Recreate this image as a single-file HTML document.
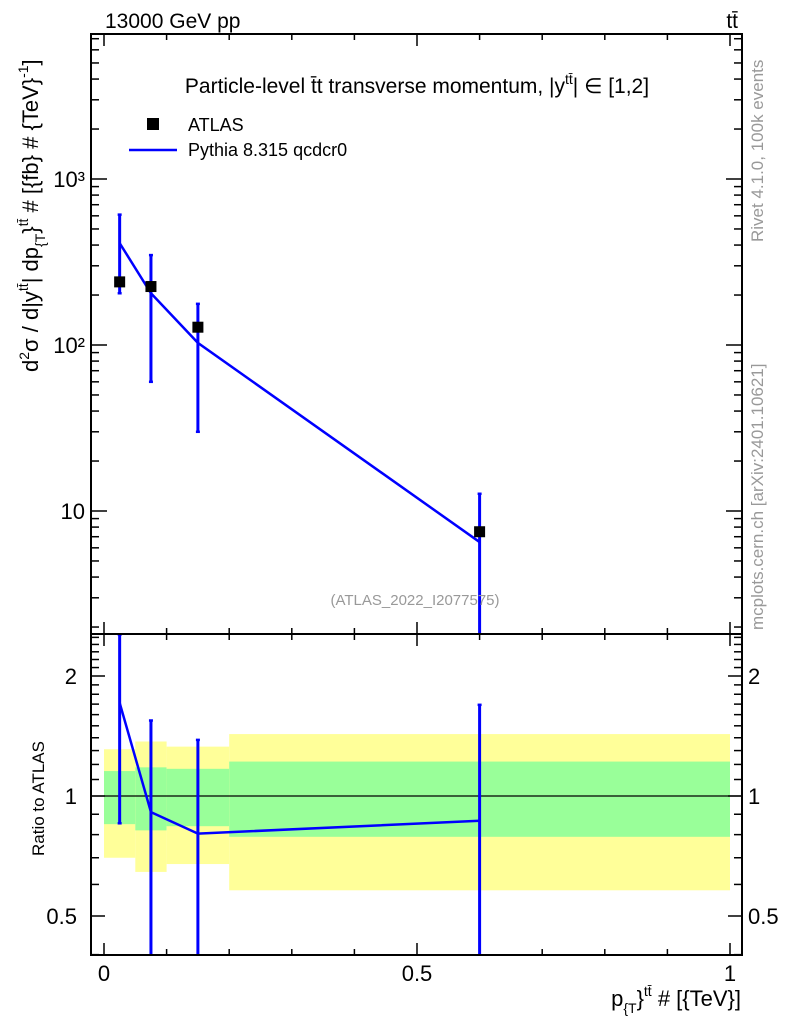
<!DOCTYPE html>
<html><head><meta charset="utf-8"><style>
html,body{margin:0;padding:0;background:#fff;}
svg{display:block;font-family:"Liberation Sans",sans-serif;}
</style></head><body>
<svg id="c" width="786" height="1024" viewBox="0 0 786 1024" xmlns="http://www.w3.org/2000/svg">
<rect x="0" y="0" width="786" height="1024" fill="#fff"/>
<g id="bands"></g><g id="grid"></g><g id="marks"></g>
<rect x="91" y="34" width="651" height="600" fill="none" stroke="#000" stroke-width="2"/>
<rect x="91" y="634" width="651" height="321" fill="none" stroke="#000" stroke-width="2"/>
<text x="105" y="28" font-size="21">13000 GeV pp</text>
<text x="738" y="28" font-size="21" text-anchor="end">tt̄</text>
<text x="417" y="93" font-size="21" text-anchor="middle">Particle-level t̄t transverse momentum, |y<tspan font-size="14" dy="-9">tt̄</tspan><tspan dy="9">| ∈ [1,2]</tspan></text>
<rect x="147" y="118" width="12" height="12" fill="#000"/>
<text x="188" y="131" font-size="18">ATLAS</text>
<line x1="129" y1="150" x2="177" y2="150" stroke="#00f" stroke-width="2.5"/>
<text x="188" y="156" font-size="18">Pythia 8.315 qcdcr0</text>
<text x="415" y="605" font-size="15" fill="#999" text-anchor="middle">(ATLAS_2022_I2077575)</text>
<text transform="translate(763,242) rotate(-90)" font-size="17" fill="#999">Rivet 4.1.0,  100k events</text>
<text transform="translate(763,630) rotate(-90)" font-size="17" fill="#999">mcplots.cern.ch [arXiv:2401.10621]</text>
<text transform="translate(38,372) rotate(-90)" font-size="22">d<tspan font-size="14" dy="-9">2</tspan><tspan dy="9">σ / d|y</tspan><tspan font-size="14" dy="-10">tt̄</tspan><tspan dy="10">| dp</tspan><tspan font-size="14" dy="7">{T</tspan><tspan dy="-7">}</tspan><tspan font-size="14" dy="-10">tt̄</tspan><tspan dy="10"> # [{fb} # {TeV}</tspan><tspan font-size="14" dy="-10">-1</tspan><tspan dy="10">]</tspan></text>
<text transform="translate(44,856) rotate(-90)" font-size="17">Ratio to ATLAS</text>
<text x="741" y="1006" font-size="22" text-anchor="end">p<tspan font-size="14" dy="7">{T</tspan><tspan dy="-7">}</tspan><tspan font-size="14" dy="-10">tt̄</tspan><tspan dy="10"> # [{TeV}]</tspan></text>
</svg>
<script>
const binLo=[0,0.05,0.1,0.2];
const binHi=[0.05,0.1,0.2,1.0];
const xPts=[0.025,0.075,0.15,0.6];
const dataVals=[240,225,128,7.5];
const mcVals=[411,205,103,6.5];
const mcUp=[610,348,177,12.7];
const mcDn=[205,60,30,1.2];
const greenUp=[1.155,1.18,1.17,1.22];
const greenDn=[0.85,0.82,0.84,0.79];
const yellowUp=[1.31,1.37,1.33,1.43];
const yellowDn=[0.70,0.645,0.675,0.58];
const xTickLabels=["0","0.5","1"];
const xTickVals=[0,0.5,1];
const yTickVals=[10,100,1000];
const yTickLabels=["10","10²","10³"];
const rTickVals=[0.5,1,2];
const rTickLabels=["0.5","1","2"];

const NS="http://www.w3.org/2000/svg";
const X=v=>104+626*v;
const Y=v=>179+166*(3-Math.log10(v));
const R=v=>796-120*Math.log2(v);
const clampM=y=>Math.max(34,Math.min(634,y));
const clampR=y=>Math.max(634,Math.min(955,y));
function mk(tag,attrs,parent,txt){const e=document.createElementNS(NS,tag);for(const k in attrs)e.setAttribute(k,attrs[k]);if(txt!==undefined)e.textContent=txt;document.getElementById(parent).appendChild(e);return e;}

for(let i=0;i<binLo.length;i++){
  let e=mk('rect',{x:X(binLo[i]),y:R(yellowUp[i]),width:X(binHi[i])-X(binLo[i]),height:R(yellowDn[i])-R(yellowUp[i]),fill:'#ffff99'},'bands');
  
  
  e=mk('rect',{x:X(binLo[i]),y:R(greenUp[i]),width:X(binHi[i])-X(binLo[i]),height:R(greenDn[i])-R(greenUp[i]),fill:'#99ff99'},'bands');
  
  
}
let l=mk('line',{x1:91,x2:742,y1:R(1),y2:R(1),stroke:'#000','stroke-width':1.2},'grid');



for(let k=0;k<=10;k++){
  const v=k/10, big=(k%5===0), len=big?12:6;
  for(const [y0,dir] of [[634,-1],[34,1],[955,-1],[634,1]]){
    mk('line',{x1:X(v),x2:X(v),y1:y0,y2:y0+dir*len,stroke:'#000','stroke-width':1.5},'grid');
  }
}
xTickVals.forEach((v,i)=>{const t=mk('text',{x:X(v),y:981,'font-size':22,'text-anchor':'middle'},'grid',xTickLabels[i]);
  
  });

for(let d=0;d<=3;d++){for(let m=1;m<=9;m++){const v=m*Math.pow(10,d);const y=Y(v);if(y<34||y>634)continue;const len=m===1?16:8;
  mk('line',{x1:91,x2:91+len,y1:y,y2:y,stroke:'#000','stroke-width':1.5},'grid');
  mk('line',{x1:742,x2:742-len,y1:y,y2:y,stroke:'#000','stroke-width':1.5},'grid');}}
yTickVals.forEach((v,i)=>{const t=mk('text',{x:85,y:Y(v)+8,'font-size':22,'text-anchor':'end'},'grid',yTickLabels[i]);
  
  });

const rMinor=[0.4,0.5,0.6,0.7,0.8,0.9,1,1.1,1.2,1.3,1.4,1.5,1.6,1.7,1.8,1.9,2,2.1,2.2,2.3,2.4,2.5];
rMinor.forEach(v=>{const y=R(v);if(y<634||y>955)return;const big=rTickVals.includes(v);const len=big?14:8;
  mk('line',{x1:91,x2:91+len,y1:y,y2:y,stroke:'#000','stroke-width':1.5},'grid');
  mk('line',{x1:742,x2:742-len,y1:y,y2:y,stroke:'#000','stroke-width':1.5},'grid');});
rTickVals.forEach((v,i)=>{let t=mk('text',{x:77,y:R(v)+8,'font-size':22,'text-anchor':'end'},'grid',rTickLabels[i]);
  
  
  t=mk('text',{x:748,y:R(v)+8,'font-size':22},'grid',rTickLabels[i]);
  
  });

let p=mk('polyline',{points:xPts.map((x,i)=>X(x)+','+Y(mcVals[i])).join(' '),fill:'none',stroke:'#00f','stroke-width':2.5},'marks');


xPts.forEach((x,i)=>{
  const e=mk('line',{x1:X(x),x2:X(x),y1:clampM(Y(mcUp[i])),y2:clampM(Y(mcDn[i])),stroke:'#00f','stroke-width':3},'marks');
  
  
  if(Y(mcUp[i])>34)mk('line',{x1:X(x)-2,x2:X(x)+2,y1:Y(mcUp[i]),y2:Y(mcUp[i]),stroke:'#00f','stroke-width':2.5},'marks');
  if(Y(mcDn[i])<634)mk('line',{x1:X(x)-2,x2:X(x)+2,y1:Y(mcDn[i]),y2:Y(mcDn[i]),stroke:'#00f','stroke-width':2.5},'marks');
  const s=mk('rect',{x:X(x)-5.5,y:Y(dataVals[i])-5.5,width:11,height:11,fill:'#000'},'marks');
  
  
});
p=mk('polyline',{points:xPts.map((x,i)=>X(x)+','+R(mcVals[i]/dataVals[i])).join(' '),fill:'none',stroke:'#00f','stroke-width':2.5},'marks');


xPts.forEach((x,i)=>{
  const yu=R(mcUp[i]/dataVals[i]),yd=R(mcDn[i]/dataVals[i]);
  const e=mk('line',{x1:X(x),x2:X(x),y1:clampR(yu),y2:clampR(yd),stroke:'#00f','stroke-width':3},'marks');
  
  
  if(yu>634)mk('line',{x1:X(x)-2,x2:X(x)+2,y1:yu,y2:yu,stroke:'#00f','stroke-width':2.5},'marks');
  if(yd<955)mk('line',{x1:X(x)-2,x2:X(x)+2,y1:yd,y2:yd,stroke:'#00f','stroke-width':2.5},'marks');
});
</script>
</body></html>
